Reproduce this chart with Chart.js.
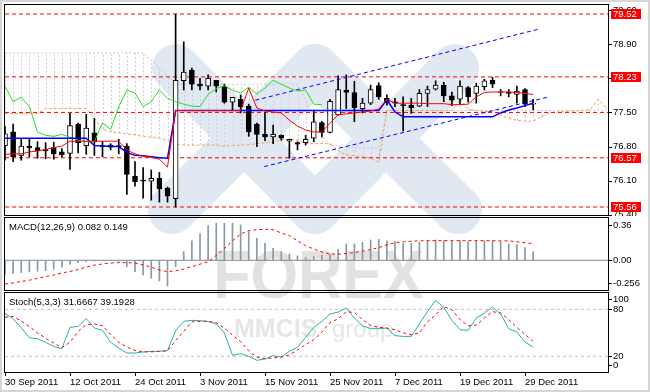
<!DOCTYPE html>
<html>
<head>
<meta charset="utf-8">
<script src="https://cdn.jsdelivr.net/npm/chart.js@4.4.1/dist/chart.umd.min.js"></script>
<style>
  html, body { margin: 0; padding: 0; background: #fff; }
  #wrap { position: relative; width: 650px; height: 392px; overflow: hidden; }
  #wrap canvas { position: absolute; left: 0; }
</style>
</head>
<body>
<div id="wrap">
  <canvas id="bg" width="650" height="392" style="top:0"></canvas>
  <canvas id="mainChart" width="650" height="216" style="top:0"></canvas>
  <canvas id="macdChart" width="650" height="75" style="top:216px"></canvas>
  <canvas id="stochChart" width="650" height="101" style="top:291px"></canvas>
</div>
<script>
// ---- data (bar index 0 = 30 Sep 2011) ----
const dates = ['30 Sep 2011', '12 Oct 2011', '24 Oct 2011', '3 Nov 2011', '15 Nov 2011',
               '25 Nov 2011', '7 Dec 2011', '19 Dec 2011', '29 Dec 2011'];
const dateBars = [0, 8, 16, 24, 32, 40, 48, 56, 64];

const open  = [76.82,77.10,76.62,76.81,76.78,76.74,76.78,76.69,76.66,77.26,76.82,77.08,76.81,76.83,76.81,76.81,76.19,76.10,76.09,76.15,75.95,75.73,78.15,78.37,78.08,78.04,78.16,78.03,77.71,77.77,77.63,77.26,77.05,77.00,77.03,76.91,76.88,76.88,76.97,77.29,77.09,77.45,77.96,77.91,77.58,77.69,78.05,77.79,77.72,77.66,77.65,77.63,77.89,77.98,78.06,77.84,77.77,78.01,77.89,78.03,78.16,77.91,77.91,77.87,77.97,77.67];
const high  = [77.21,77.26,76.95,76.95,76.90,76.88,76.89,76.76,77.48,77.28,77.46,77.38,76.90,76.86,76.95,76.86,76.49,76.37,76.32,76.27,75.97,79.52,78.95,78.41,78.20,78.27,78.16,78.08,77.81,77.86,77.67,77.28,77.51,77.24,77.04,76.95,76.90,77.03,77.55,77.32,77.77,78.25,78.27,78.14,77.79,78.06,78.11,77.86,77.79,77.82,77.79,77.97,78.04,78.15,78.12,77.92,78.15,78.03,78.10,78.18,78.22,77.97,77.97,78.04,77.99,77.77];
const low   = [76.52,76.49,76.52,76.59,76.56,76.55,76.54,76.59,76.33,76.67,76.64,76.62,76.59,76.73,76.65,75.82,75.99,75.74,75.70,75.66,75.66,75.56,77.96,77.96,77.96,77.96,77.92,77.69,77.55,77.49,77.01,76.80,76.92,76.86,76.93,76.56,76.73,76.83,76.90,77.00,77.08,77.45,77.58,77.31,77.49,77.66,77.77,77.65,77.62,77.12,77.48,77.62,77.62,77.96,77.72,77.64,77.67,77.71,77.69,77.96,78.01,77.84,77.82,77.69,77.62,77.55];
const close = [77.06,76.59,76.81,76.77,76.71,76.71,76.65,76.63,77.23,76.88,77.18,76.90,76.80,76.79,76.80,76.23,76.08,76.09,76.15,75.93,75.78,78.16,78.33,78.08,78.04,78.20,78.04,77.71,77.81,77.62,77.10,77.05,77.00,77.05,76.97,76.95,76.85,76.95,77.31,77.09,77.73,77.97,77.91,77.60,77.69,77.97,77.82,77.70,77.69,77.64,77.60,77.89,77.97,78.06,77.84,77.75,78.04,77.82,78.04,78.15,78.08,77.91,77.89,77.94,77.67,77.67];

const tenkan = [76.64,76.65,76.65,76.69,76.71,76.74,76.78,76.81,76.91,76.91,76.91,76.91,76.91,76.91,76.91,76.73,76.65,76.60,76.58,76.54,76.38,77.54,77.54,77.54,77.54,77.54,77.54,77.54,77.54,77.54,78.00,77.59,77.53,77.51,77.49,77.34,77.22,77.14,77.10,77.10,77.28,77.45,77.47,77.49,77.51,77.53,77.57,77.77,77.69,77.69,77.69,77.69,77.68,77.68,77.68,77.66,77.66,77.67,77.82,77.91,77.92,77.92,77.92,77.91,77.89,77.87];
const kijun  = [76.97,76.97,76.97,76.97,76.97,76.97,76.97,76.97,76.97,76.97,76.97,76.82,76.81,76.80,76.80,76.68,76.62,76.61,76.59,76.57,76.56,77.54,77.54,77.54,77.54,77.54,77.54,77.54,77.54,77.54,77.54,77.54,77.54,77.54,77.54,77.54,77.54,77.54,77.54,77.54,77.54,77.54,77.54,77.54,77.54,77.54,77.54,77.76,77.51,77.41,77.41,77.41,77.41,77.41,77.41,77.41,77.41,77.41,77.41,77.41,77.41,77.49,77.55,77.59,77.64,77.69];
const chikou = [78.04,77.72,77.81,77.62,77.10,77.03,77.01,77.05,76.99,76.93,76.90,76.90,77.29,77.15,77.62,77.96,77.90,77.62,77.72,77.96,77.79,77.72,77.67,77.63,77.62,77.87,77.99,78.05,77.96,77.90,78.02,77.88,78.00,78.16,78.08,78.00,77.94,77.96,77.67,77.66];
const spanA  = [77.48,77.48,77.48,77.48,77.48,77.58,77.58,77.58,77.58,77.58,77.58,77.38,77.16,77.10,77.08,77.06,77.04,77.01,76.99,76.97,76.93,76.85,76.83,76.83,76.83,76.83,76.83,76.81,76.82,76.83,76.84,76.86,76.88,76.89,76.94,76.94,76.94,76.86,76.86,76.86,76.86,76.71,76.63,76.61,76.59,76.56,76.47,77.54,77.54,77.54,77.54,77.54,77.54,77.54,77.54,77.54,77.77,77.57,77.54,77.52,77.52,77.44,77.38,77.34,77.32,77.32,77.41,77.50,77.51,77.52,77.53,77.54,77.56,77.77,77.60];
const spanB  = [78.72,78.72,78.72,78.72,78.72,78.72,78.72,78.72,78.72,78.72,78.72,78.72,78.72,78.72,78.72,78.72,78.72,78.72,78.57,78.41,78.25,78.08,78.08,78.08,78.08,78.08,78.08,78.08,78.08,78.08,78.08,78.08,78.08,78.08,78.08,78.08,78.08,77.75,77.38,77.03,76.83,76.81,76.79,76.77,76.77,76.77,76.77,77.54,77.54,77.54,77.54,77.54,77.54,77.54,77.54,77.54,77.54,77.54,77.54,77.54,77.54,77.54,77.54,77.54,77.54,77.54,77.54,77.54,77.54,77.54,77.54,77.54,77.54,77.54,77.54];

const levels = [79.52, 78.23, 77.50, 76.57, 75.56];
const boxedLevels = [79.52, 78.23, 76.57, 75.56];
const priceTicks = [75.40, 76.10, 76.80, 77.50, 78.20, 78.90, 79.60];
const channelUpper = [[30.8, 77.75], [65.7, 79.21]];
const channelLower = [[31.9, 76.39], [66.7, 77.81]];

const macdHist   = [-0.141,-0.134,-0.127,-0.120,-0.113,-0.106,-0.093,-0.072,-0.041,-0.024,-0.014,-0.007,-0.003,-0.003,-0.007,-0.065,-0.117,-0.151,-0.185,-0.213,-0.264,-0.065,0.089,0.199,0.271,0.357,0.381,0.381,0.381,0.364,0.295,0.226,0.175,0.123,0.089,0.065,0.045,0.027,0.038,0.051,0.062,0.113,0.168,0.168,0.185,0.209,0.216,0.199,0.192,0.175,0.175,0.185,0.199,0.209,0.202,0.192,0.202,0.192,0.199,0.199,0.199,0.192,0.168,0.165,0.130,0.089];
const macdSignal = [-0.244,-0.232,-0.218,-0.205,-0.185,-0.168,-0.151,-0.130,-0.115,-0.095,-0.070,-0.050,-0.038,-0.028,-0.024,-0.024,-0.028,-0.048,-0.070,-0.100,-0.117,-0.108,-0.090,-0.065,-0.040,-0.014,0.050,0.120,0.200,0.270,0.305,0.315,0.319,0.315,0.280,0.255,0.200,0.150,0.115,0.085,0.065,0.062,0.070,0.079,0.095,0.110,0.130,0.160,0.180,0.190,0.196,0.200,0.202,0.202,0.202,0.202,0.202,0.202,0.202,0.202,0.202,0.200,0.200,0.190,0.180,0.172];
const macdTicks = [0.36, 0, -0.256];

const stochK = [75,68,56.6,43.8,42.5,37.9,32.7,29.8,57,58.3,68.1,56.2,53.2,37.9,30.6,24.2,24.2,25.5,26.4,26.4,27.2,52.8,64.7,66,65.5,64.7,61.3,50,21.3,23.4,20,14.9,16.6,20.8,19.1,26.4,31.5,44.2,57,64.7,74,76.6,81.7,68.9,59.1,55.3,55.3,56.2,46.4,45.5,45.5,61.3,77.4,91.5,82.6,66,54,53.2,68.9,75.3,83,74,55.3,51,38.3,31.7];
const stochD = [70,71,65,58,50,43,37,31,38,52,60.5,61.3,59,48,38,32,27.5,25.8,25.8,26.4,27.2,40,52,64,64.7,64.7,63,56,47,39,27,19,17,18,19,22,28,35,41.3,51,63,68,77,76,67,59.5,57,56.2,54,50,47.6,50,64,73,83.5,79.5,67,59,60,69,77,75.5,67,57,48,39.2];
const stochTicks = [100, 80, 20, 0];
const stochLevels = [80, 20];

// ---- layout ----
const FONT = "9.5px 'Liberation Sans', Arial, sans-serif";
const X_MIN = 0, X_MAX = 74.215;
const bars = close.map((c, i) => i);
const pts = (arr) => arr.map((v, i) => ({ x: i, y: v }));
const hline = (v) => [{ x: X_MIN, y: v }, { x: X_MAX, y: v }];

function xAxis(show) {
  const axis = {
    type: 'linear', min: X_MIN, max: X_MAX, offset: false, display: show,
    grid: { drawOnChartArea: false, drawTicks: true, tickLength: 4, color: '#000' },
    border: { display: false },
    afterBuildTicks: s => { s.ticks = dateBars.map(v => ({ value: v })); },
    ticks: {
      autoSkip: false, maxRotation: 0, align: 'start', padding: 1, color: '#000',
      font: { family: "'Liberation Sans', Arial, sans-serif", size: 9.5 },
      callback: v => dates[dateBars.indexOf(v)]
    }
  };
  if (show) axis.afterFit = s => { s.height = 20; };
  return axis;
}

const frame = {
  id: 'frame',
  afterDraw(chart) {
    const { ctx, chartArea: a } = chart;
    ctx.save();
    ctx.strokeStyle = '#000';
    ctx.lineWidth = 1;
    ctx.strokeRect(a.left - 0.5, a.top - 0.5, a.width + 1, a.height + 1);
    ctx.restore();
  }
};

function axisLabels(ticks, fmt, clampInside, boxes) {
  return {
    id: 'axisLabels',
    afterDraw(chart) {
      const { ctx, chartArea: a, scales: { y } } = chart;
      ctx.save();
      ctx.font = FONT;
      ctx.textBaseline = 'middle';
      ctx.textAlign = 'left';
      ctx.fillStyle = '#000';
      ticks.forEach(t => {
        let py = y.getPixelForValue(t);
        if (clampInside) py = Math.min(Math.max(py, a.top + 6), a.bottom - 7);
        ctx.fillRect(a.right + 1, Math.round(py), 3, 1);
        ctx.fillText(fmt(t), a.right + 5, py);
      });
      (boxes || []).forEach(v => {
        const py = Math.round(y.getPixelForValue(v));
        ctx.fillStyle = '#ff0000';
        ctx.fillRect(a.right + 3, py - 5, 30, 10);
        ctx.fillStyle = '#fff';
        ctx.fillText(v.toFixed(2), a.right + 5, py + 0.5);
      });
      ctx.restore();
    }
  };
}

function title(text) {
  return {
    id: 'title',
    afterDraw(chart) {
      const { ctx, chartArea: a } = chart;
      ctx.save();
      ctx.font = FONT;
      ctx.fillStyle = '#000';
      ctx.textBaseline = 'middle';
      ctx.fillText(text, a.left + 4, a.top + 9);
      ctx.restore();
    }
  };
}

const cloudHatch = {
  id: 'cloudHatch',
  beforeDatasetsDraw(chart) {
    const { ctx, chartArea: a, scales: { x, y } } = chart;
    ctx.save();
    ctx.beginPath();
    ctx.rect(a.left, a.top, a.width, a.height);
    ctx.clip();
    ctx.lineWidth = 1;
    ctx.setLineDash([2, 2]);
    spanA.forEach((va, i) => {
      const vb = spanB[i];
      const px = Math.round(x.getPixelForValue(i)) + 0.5;
      ctx.strokeStyle = va > vb ? '#e9cfa8' : '#dcc6dc';
      ctx.beginPath();
      ctx.moveTo(px, y.getPixelForValue(va));
      ctx.lineTo(px, y.getPixelForValue(vb));
      ctx.stroke();
    });
    ctx.restore();
  }
};

// ---- watermark (logo behind the charts) ----
(function drawBackground() {
  const c = document.getElementById('bg').getContext('2d');
  c.fillStyle = '#fff';
  c.fillRect(0, 0, 650, 392);
  c.strokeStyle = '#d6d6d6';
  c.lineWidth = 2;
  c.strokeRect(1, 1, 648, 390);
  // two crossed "X" strokes of the logo
  c.lineCap = 'round';
  c.strokeStyle = '#e0e8f1';
  c.lineWidth = 48;
  [[176, 68, 315, 210], [172, 210, 315, 68], [315, 68, 458, 210], [315, 210, 455, 68]].forEach(s => {
    c.beginPath(); c.moveTo(s[0], s[1]); c.lineTo(s[2], s[3]); c.stroke();
  });
  c.textAlign = 'left';
  c.save();
  c.translate(213, 298);
  c.scale(0.9, 1);
  c.fillStyle = '#e2e2e2';
  c.font = "bold 68px 'Liberation Sans', Arial, sans-serif";
  c.fillText('FOREX', 0, 0);
  c.restore();
  c.fillStyle = '#e6e6e6';
  c.font = "bold 25px 'Liberation Sans', Arial, sans-serif";
  c.fillText('MMCIS', 234, 337);
  c.font = "24px 'Liberation Sans', Arial, sans-serif";
  c.fillText('group', 332, 337);
})();

const base = { responsive: false, animation: false, events: [],
  plugins: { legend: { display: false }, tooltip: { enabled: false } } };

// ---- main price pane ----
new Chart(document.getElementById('mainChart'), {
  type: 'bar',
  data: {
    datasets: [
      { type: 'line', data: pts(tenkan), borderColor: '#ff0000', borderWidth: 1, pointRadius: 0, order: 0 },
      { type: 'line', data: pts(kijun), borderColor: '#0000ff', borderWidth: 1.5, pointRadius: 0, order: 1 },
      { type: 'line', data: pts(chikou), borderColor: '#22e022', borderWidth: 1, pointRadius: 0, order: 2 },
      { type: 'line', data: channelUpper.map(p => ({ x: p[0], y: p[1] })), borderColor: '#0000ff', borderWidth: 1, borderDash: [4, 3], pointRadius: 0, order: 3 },
      { type: 'line', data: channelLower.map(p => ({ x: p[0], y: p[1] })), borderColor: '#0000ff', borderWidth: 1, borderDash: [4, 3], pointRadius: 0, order: 3 },
      { type: 'bar', data: bars.map(i => ({ x: i, y: [Math.min(open[i], close[i]), Math.max(open[i], close[i])] })),
        backgroundColor: bars.map(i => close[i] >= open[i] ? '#fff' : '#000'), borderColor: '#000', borderWidth: 1,
        borderSkipped: false, barThickness: 5, minBarLength: 1, grouped: false, order: 4 },
      { type: 'bar', data: bars.map(i => ({ x: i, y: [low[i], high[i]] })), backgroundColor: '#000',
        borderWidth: 0, barThickness: 1, grouped: false, order: 5 },
      ...levels.map(v => ({ type: 'line', data: hline(v), borderColor: '#ff0000', borderWidth: 1, borderDash: [4, 3], pointRadius: 0, order: 6 })),
      { type: 'line', data: pts(spanA), borderColor: '#f4a460', borderWidth: 1, borderDash: [3, 2], pointRadius: 0, order: 7 },
      { type: 'line', data: pts(spanB), borderColor: '#d8bfd8', borderWidth: 1, borderDash: [2, 2], pointRadius: 0, order: 8 }
    ]
  },
  options: {
    ...base,
    layout: { padding: { left: 5, right: 42, top: 5, bottom: 1 } },
    scales: {
      x: xAxis(false),
      y: { type: 'linear', min: 75.3959, max: 79.7047, display: false }
    }
  },
  plugins: [cloudHatch, frame, axisLabels(priceTicks, v => v.toFixed(2), false, boxedLevels)]
});

// ---- MACD pane ----
new Chart(document.getElementById('macdChart'), {
  type: 'bar',
  data: {
    datasets: [
      { type: 'line', data: pts(macdSignal), borderColor: '#ff0000', borderWidth: 1, borderDash: [3, 3], pointRadius: 0, order: 0 },
      { type: 'bar', data: pts(macdHist), backgroundColor: '#8c98a4', barThickness: 1, grouped: false, order: 1 },
      { type: 'line', data: hline(0), borderColor: '#7a8894', borderWidth: 1, pointRadius: 0, order: 2 }
    ]
  },
  options: {
    ...base,
    layout: { padding: { left: 5, right: 42, top: 2, bottom: 1 } },
    scales: {
      x: xAxis(false),
      y: { type: 'linear', min: -0.3056, max: 0.435, display: false }
    }
  },
  plugins: [frame, title('MACD(12,26,9) 0.082 0.149'), axisLabels(macdTicks, v => v === 0 ? '0.00' : String(v), true)]
});

// ---- Stochastic pane ----
new Chart(document.getElementById('stochChart'), {
  type: 'line',
  data: {
    datasets: [
      { data: pts(stochD), borderColor: '#ff0000', borderWidth: 1, borderDash: [3, 3], pointRadius: 0, order: 0 },
      { data: pts(stochK), borderColor: '#20b2aa', borderWidth: 1, pointRadius: 0, order: 1 },
      ...stochLevels.map(v => ({ data: hline(v), borderColor: '#c0c0c0', borderWidth: 1, borderDash: [3, 3], pointRadius: 0, order: 2 }))
    ]
  },
  options: {
    ...base,
    layout: { padding: { left: 5, right: 42, top: 2, bottom: 0 } },
    scales: {
      x: xAxis(true),
      y: { type: 'linear', min: 0, max: 100.9, display: false }
    }
  },
  plugins: [frame, title('Stoch(5,3,3) 31.6667 39.1928'), axisLabels(stochTicks, v => String(v), true)]
});
</script>
</body>
</html>
